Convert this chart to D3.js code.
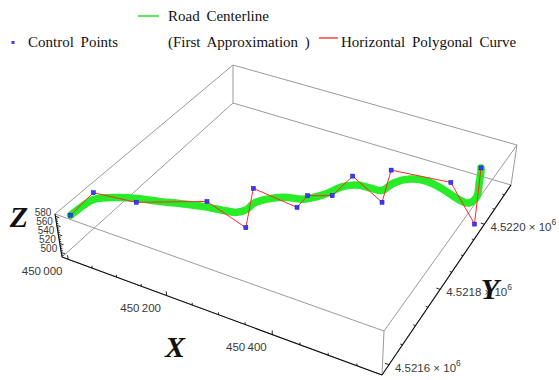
<!DOCTYPE html>
<html>
<head>
<meta charset="utf-8">
<script src="https://cdn.jsdelivr.net/npm/d3@7"></script>
<style>
  body { margin: 0; background: #fff; }
  svg { display: block; }
</style>
</head>
<body>
<svg id="chart" width="559" height="380"></svg>
<script>
// control points: easting, northing, elevation
var ctrlX = [450003, 450000, 450074, 450175, 450265, 450222, 450314, 450315,
             450354, 450360, 450438, 450413, 450524, 450588, 450556];
var ctrlY = [4521594, 4521660, 4521680, 4521744, 4521723, 4521820, 4521812, 4521848,
             4521866, 4521933, 4521892, 4521981, 4521993, 4521958, 4522055];
var ctrlZ = [575, 578, 570, 565, 555, 560, 556, 558, 560, 562, 558, 563, 566, 518, 570];

// road centerline (first approximation)
var roadX = [450003, 450006, 450011, 450041, 450071, 450109, 450145, 450178, 450212, 450233,
             450243, 450244, 450258, 450280, 450313, 450338, 450359, 450378, 450403, 450424,
             450433, 450454, 450484, 450519, 450553, 450573, 450580, 450569, 450560, 450556];
var roadY = [4521594, 4521626, 4521647, 4521672, 4521688, 4521701, 4521717, 4521729, 4521739, 4521747,
             4521764, 4521785, 4521806, 4521826, 4521837, 4521864, 4521900, 4521915, 4521918, 4521921,
             4521950, 4521973, 4521980, 4521971, 4521958, 4521956, 4521976, 4522015, 4522045, 4522055];
var roadZ = [575, 576, 576, 574, 572, 570, 567, 565, 562, 560,
             559, 558, 558, 557, 557, 558, 560, 560, 560, 560,
             561, 562, 563, 563, 562, 562, 564, 567, 570, 570];

var xTicks = [450000, 450200, 450400];
var xTickLabels = ["450\u2009000", "450\u2009200", "450\u2009400"];
var yTicks = [4521600, 4521800, 4522000];
var yTickLabels = ["4.5216", "4.5218", "4.5220"];
var zTicks = [500, 520, 540, 560, 580];

var xDomain = [449987, 450593], yDomain = [4521575, 4522135], zDomain = [490, 585];

var svg = d3.select("#chart");

var xs = d3.scaleLinear().domain(xDomain).range([0, 1]);
var ys = d3.scaleLinear().domain(yDomain).range([0, 1]);
var zs = d3.scaleLinear().domain(zDomain).range([0, 1]);

// box corners on screen: L(xmin,ymin) F(xmax,ymin) R(xmax,ymax) B(xmin,ymax)
var bottomQuad = [[62, 257], [382, 375], [511, 185], [233, 103]];
var topQuad = [[55, 214], [384, 331], [517, 145], [233, 65]];

function quadMap(q) {
  var x0 = q[0][0], y0 = q[0][1], x1 = q[1][0], y1 = q[1][1],
      x2 = q[2][0], y2 = q[2][1], x3 = q[3][0], y3 = q[3][1];
  var sx = x0 - x1 + x2 - x3, sy = y0 - y1 + y2 - y3;
  var dx1 = x1 - x2, dx2 = x3 - x2, dy1 = y1 - y2, dy2 = y3 - y2;
  var det = dx1 * dy2 - dx2 * dy1;
  var g = (sx * dy2 - dx2 * sy) / det, h = (dx1 * sy - sx * dy1) / det;
  var a = x1 - x0 + g * x1, b = x3 - x0 + h * x3;
  var d = y1 - y0 + g * y1, e = y3 - y0 + h * y3;
  return function (u, v) {
    var w = g * u + h * v + 1;
    return [(a * u + b * v + x0) / w, (d * u + e * v + y0) / w];
  };
}
var hb = quadMap(bottomQuad), ht = quadMap(topQuad);

function proj(x, y, z) {
  var u = xs(x), v = ys(y), t = zs(z);
  var pb = hb(u, v), pt = ht(u, v);
  return [pb[0] + (pt[0] - pb[0]) * t, pb[1] + (pt[1] - pb[1]) * t];
}

function seg(p, q) {
  return "M" + p[0] + "," + p[1] + "L" + q[0] + "," + q[1];
}

// box edges
var X0 = xDomain[0], X1 = xDomain[1], Y0 = yDomain[0], Y1 = yDomain[1], Z0 = zDomain[0], Z1 = zDomain[1];
var corners = [[X0, Y0], [X1, Y0], [X1, Y1], [X0, Y1]];
var edges = [];
for (var i = 0; i < 4; i++) {
  var c = corners[i], n = corners[(i + 1) % 4];
  edges.push([proj(c[0], c[1], Z0), proj(n[0], n[1], Z0)]);
  edges.push([proj(c[0], c[1], Z1), proj(n[0], n[1], Z1)]);
  edges.push([proj(c[0], c[1], Z0), proj(c[0], c[1], Z1)]);
}
svg.append("g").selectAll("path").data(edges).enter().append("path")
  .attr("d", function (d) { return seg(d[0], d[1]); })
  .attr("stroke", "#9a9a9a").attr("stroke-width", 1).attr("fill", "none");

// axes
var axisG = svg.append("g").attr("stroke", "#111").attr("fill", "none");
axisG.append("path").attr("d", seg(proj(X0, Y0, Z0), proj(X1, Y0, Z0))).attr("stroke-width", 1.1);
axisG.append("path").attr("d", seg(proj(X1, Y0, Z0), proj(X1, Y1, Z0))).attr("stroke-width", 1.1);
axisG.append("path").attr("d", seg(proj(X0, Y0, Z0), proj(X0, Y0, Z1))).attr("stroke-width", 1.1);

var xMinor = d3.range(450000, X1, 50);
axisG.selectAll(".xt").data(xMinor).enter().append("path")
  .attr("d", function (v) {
    var len = xTicks.indexOf(v) >= 0 ? 9 : 5;
    return seg(proj(v, Y0, Z0), proj(v, Y0, Z0 + len));
  }).attr("stroke-width", 0.9);

var yMinor = d3.range(4521600, Y1, 50);
axisG.selectAll(".yt").data(yMinor).enter().append("path")
  .attr("d", function (v) {
    var len = yTicks.indexOf(v) >= 0 ? 7 : 4;
    return seg(proj(X1, v, Z0), proj(X1 - len, v, Z0));
  }).attr("stroke-width", 0.9);

var zMinor = d3.range(495, Z1, 5);
axisG.selectAll(".zt").data(zMinor).enter().append("path")
  .attr("d", function (v) {
    var len = zTicks.indexOf(v) >= 0 ? 8 : 4;
    return seg(proj(X0, Y0, v), proj(X0 + len, Y0, v));
  }).attr("stroke-width", 0.9);

// tick labels
var tickFont = "'Liberation Sans', Arial, sans-serif";
svg.append("g").selectAll("text").data(xTicks).enter().append("text")
  .attr("x", function (v) { return proj(v, Y0, Z0)[0] - 26; })
  .attr("y", function (v) { return proj(v, Y0, Z0)[1] + 12; })
  .attr("text-anchor", "middle").attr("dominant-baseline", "central")
  .attr("font-family", tickFont).attr("font-size", 11.5).attr("fill", "#3a3a3a")
  .text(function (v, i) { return xTickLabels[i]; });

var yl = svg.append("g").selectAll("text").data(yTicks).enter().append("text")
  .attr("x", function (v) { return proj(X1, v, Z0)[0] + 6; })
  .attr("y", function (v) { return proj(X1, v, Z0)[1] + 3; })
  .attr("dominant-baseline", "central")
  .attr("font-family", tickFont).attr("font-size", 11.5).attr("fill", "#3a3a3a");
yl.append("tspan").text(function (v, i) { return yTickLabels[i] + " \u00d7 10"; });
yl.append("tspan").attr("dy", -5).attr("font-size", 8.5).text("6");

// z labels are crammed in the original too, so keep them small
svg.append("g").selectAll("text").data(zTicks).enter().append("text")
  .attr("x", function (v) { return proj(X0, Y0, v)[0] - 4; })
  .attr("y", function (v) { return proj(X0, Y0, v)[1] - 4; })
  .attr("text-anchor", "end").attr("dominant-baseline", "central")
  .attr("font-family", tickFont).attr("font-size", 10).attr("fill", "#3a3a3a")
  .text(function (v) { return v; });

// axis titles
var titleFont = "'Liberation Serif', 'Times New Roman', serif";
[["X", 175, 346], ["Y", 490, 288], ["Z", 19, 216]].forEach(function (a) {
  svg.append("text").attr("x", a[1]).attr("y", a[2])
    .attr("text-anchor", "middle").attr("dominant-baseline", "central")
    .attr("font-family", titleFont).attr("font-weight", "bold").attr("font-style", "italic")
    .attr("font-size", 30).attr("fill", "#111").text(a[0]);
});

// data
var road = roadX.map(function (x, i) { return { x: x, y: roadY[i], z: roadZ[i] }; });
var ctrl = ctrlX.map(function (x, i) { return { x: x, y: ctrlY[i], z: ctrlZ[i] }; });

var line3 = d3.line()
  .x(function (d) { return proj(d.x, d.y, d.z)[0]; })
  .y(function (d) { return proj(d.x, d.y, d.z)[1]; });

svg.append("path").datum(road)
  .attr("d", line3.curve(d3.curveCatmullRom.alpha(0.5)))
  .attr("fill", "none").attr("stroke", "#27ec27").attr("stroke-width", 7.5)
  .attr("stroke-linecap", "round").attr("stroke-linejoin", "round");

svg.append("path").datum(ctrl)
  .attr("d", line3.curve(d3.curveLinear))
  .attr("fill", "none").attr("stroke", "#ff2a2a").attr("stroke-width", 1);

svg.append("g").selectAll("rect").data(ctrl).enter().append("rect")
  .attr("x", function (d) { return proj(d.x, d.y, d.z)[0] - 2; })
  .attr("y", function (d) { return proj(d.x, d.y, d.z)[1] - 2; })
  .attr("width", 4).attr("height", 4)
  .attr("fill", "#3b3bff").attr("stroke", "#1010c0").attr("stroke-width", 0.5);

// legend
var lg = svg.append("g").attr("font-family", titleFont).attr("font-size", 15)
  .attr("word-spacing", 3).attr("fill", "#111");
lg.append("line").attr("x1", 138).attr("x2", 159).attr("y1", 16).attr("y2", 16)
  .attr("stroke", "#5ee85e").attr("stroke-width", 2);
lg.append("text").attr("x", 168).attr("y", 21).text("Road Centerline");
lg.append("text").attr("x", 168).attr("y", 47).text("(First Approximation )");
lg.append("rect").attr("x", 11.5).attr("y", 41).attr("width", 3).attr("height", 3).attr("fill", "#3b3bff");
lg.append("text").attr("x", 28).attr("y", 47).text("Control Points");
lg.append("line").attr("x1", 319).attr("x2", 338).attr("y1", 38).attr("y2", 38)
  .attr("stroke", "#ff7070").attr("stroke-width", 2);
lg.append("text").attr("x", 341).attr("y", 47).text("Horizontal Polygonal Curve");
</script>
</body>
</html>
